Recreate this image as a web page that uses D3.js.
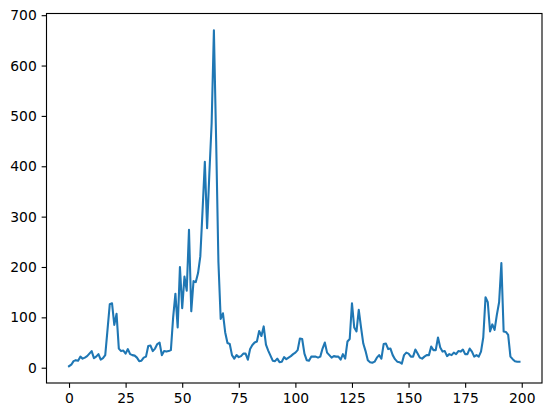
<!DOCTYPE html>
<html><head><meta charset="utf-8">
<script src="https://cdn.jsdelivr.net/npm/d3@7"></script>
<style>body{margin:0;background:#fff}svg{display:block}</style>
</head><body>
<script>
const values = [
 3,6,13,15,14,22,18,20,23,28, 33,19,22,27,16,19,25,75,126,128,
 85,107,38,33,34,28,37,27,25,24, 20,13,14,20,22,43,44,33,38,47,
 50,25,33,32,33,35,100,147,80,200, 118,181,153,274,112,172,170,188,221,313,
 409,277,386,485,670,450,210,97,108,70, 49,47,25,18,25,21,23,28,28,16,
 37,45,50,52,73,63,82,46,34,24, 14,13,18,11,12,21,17,20,23,27,
 30,35,58,57,28,15,14,22,22,22, 20,22,38,50,30,25,20,23,22,22,
 16,27,18,52,57,128,80,72,115,80, 48,33,15,11,10,12,20,25,18,47,
 48,37,38,25,17,12,11,8,25,30, 28,22,22,36,28,20,18,22,25,25,
 42,35,35,60,40,32,33,23,27,25, 30,27,33,32,36,27,27,38,32,22,
 25,22,32,60,140,130,72,86,75,105, 130,208,72,71,65,22,17,13,12,12
];
const xTicks = [0,25,50,75,100,125,150,175,200];
const yTicks = [0,100,200,300,400,500,600,700];

const W=552,H=417, L=46.5, R=542, T=13.5, B=383;
const pt = 100/72;
const n = values.length;
const xm = (n-1)*0.05;
const ymin = d3.min(values), ymax = d3.max(values), ym=(ymax-ymin)*0.05;
const x = d3.scaleLinear().domain([-xm, n-1+xm]).range([L,R]);
const y = d3.scaleLinear().domain([ymin-ym, ymax+ym]).range([B,T]);

const svg = d3.select("body").append("svg").attr("width",W).attr("height",H);
svg.append("rect").attr("width",W).attr("height",H).attr("fill","#fff");

const line = d3.line().x((d,i)=>x(i)).y(d=>y(d));
svg.append("path").datum(values).attr("d",line).attr("fill","none")
  .attr("stroke","#1f77b4").attr("stroke-width",1.5*pt).attr("stroke-linejoin","round").attr("stroke-linecap","square");

const fs = 10*pt;
const xa = svg.append("g").attr("transform",`translate(0,${B})`)
  .call(d3.axisBottom(x).tickValues(xTicks).tickSize(3.5*pt).tickPadding(3.5*pt).tickFormat(d3.format("d")));
const ya = svg.append("g").attr("transform",`translate(${L},0)`)
  .call(d3.axisLeft(y).tickValues(yTicks).tickSize(3.5*pt).tickPadding(3.5*pt).tickFormat(d3.format("d")));
[xa,ya].forEach(a=>{
  a.select(".domain").remove();
  a.selectAll("line").attr("stroke","#000").attr("stroke-width",0.8*pt);
  a.selectAll("text").attr("fill","#000").style("font-family","'DejaVu Sans'").style("font-size",fs+"px");
});
svg.append("rect").attr("x",L).attr("y",T).attr("width",R-L).attr("height",B-T)
  .attr("fill","none").attr("stroke","#000").attr("stroke-width",0.8*pt);
</script>
</body></html>
